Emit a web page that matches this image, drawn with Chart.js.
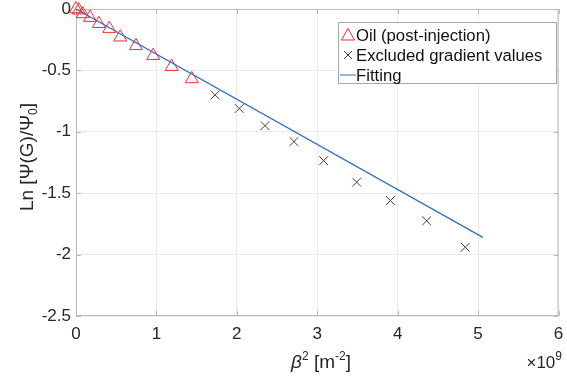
<!DOCTYPE html>
<html lang="en">
<head>
<meta charset="UTF-8">
<title>Ln attenuation vs beta squared</title>
<style>
  html, body { margin: 0; padding: 0; background: #fff; }
  #wrap { width: 567px; height: 376px; }
</style>
</head>
<body>
<div id="wrap"><canvas id="myChart" width="567" height="376"></canvas></div>
<script src="https://cdn.jsdelivr.net/npm/chart.js"></script>
<script>
// beta^2 values are in units of 1e9 m^-2
var oilX = [0, 0.035, 0.085, 0.175, 0.285, 0.415, 0.55, 0.745, 0.96, 1.19, 1.44];
var oilY = [0, -0.01, -0.04, -0.07, -0.12, -0.16, -0.23, -0.30, -0.38, -0.47, -0.57];
var exclX = [1.73, 2.03, 2.35, 2.71, 3.08, 3.49, 3.91, 4.36, 4.84];
var exclY = [-0.70, -0.81, -0.95, -1.08, -1.235, -1.41, -1.56, -1.725, -1.94];
var fitX = [0, 5.06];
var fitY = [0, -1.86];
var xTicks = [0, 1, 2, 3, 4, 5, 6];
var yTicks = [0, -0.5, -1, -1.5, -2, -2.5];
var seriesNames = ["Oil (post-injection)", "Excluded gradient values", "Fitting"];

function pts(xs, ys) {
    var out = [];
    for (var i = 0; i < xs.length; i++) out.push({x: xs[i], y: ys[i]});
    return out;
}

var FONT = "'Liberation Sans', Arial, Helvetica, sans-serif";
var axisGray = "#b8b8b8";
var txt = "#262626";

// draws a row of text pieces, some raised or lowered
function richText(ctx, parts, x, y, align) {
    var w = 0;
    parts.forEach(function(p) { ctx.font = p.f; w += ctx.measureText(p.t).width; });
    var cx = align === "center" ? x - w / 2 : (align === "right" ? x - w : x);
    parts.forEach(function(p) {
        ctx.font = p.f;
        ctx.fillText(p.t, cx, y + (p.dy || 0));
        cx += ctx.measureText(p.t).width;
    });
}

var extras = {
    id: "extras",
    beforeDatasetsDraw: function(chart) {
        var ctx = chart.ctx, a = chart.chartArea;
        var xs = chart.scales.x, ys = chart.scales.y;
        ctx.save();
        ctx.strokeStyle = axisGray;
        ctx.lineWidth = 1;
        ctx.strokeRect(a.left + 0.5, a.top + 0.5, a.right - a.left - 1, a.bottom - a.top - 1);
        // inward ticks
        ctx.beginPath();
        xTicks.forEach(function(v) {
            var px = Math.round(xs.getPixelForValue(v)) + 0.5;
            ctx.moveTo(px, a.bottom); ctx.lineTo(px, a.bottom - 5);
            ctx.moveTo(px, a.top); ctx.lineTo(px, a.top + 5);
        });
        yTicks.forEach(function(v) {
            var py = Math.round(ys.getPixelForValue(v)) + 0.5;
            ctx.moveTo(a.left, py); ctx.lineTo(a.left + 5, py);
            ctx.moveTo(a.right, py); ctx.lineTo(a.right - 5, py);
        });
        ctx.stroke();
        ctx.restore();
    },
    afterDraw: function(chart) {
        var ctx = chart.ctx;
        ctx.save();
        ctx.fillStyle = txt;
        ctx.textBaseline = "alphabetic";
        var big = "19px " + FONT, small = "12px " + FONT;
        // x title
        richText(ctx, [
            {t: "\u03b2", f: "italic 19px " + FONT},
            {t: "2", f: small, dy: -8},
            {t: " [m", f: big},
            {t: "-2", f: small, dy: -8},
            {t: "]", f: big}
        ], 321, 368, "center");
        // exponent
        richText(ctx, [
            {t: "\u00d710", f: "17px " + FONT},
            {t: "9", f: small, dy: -8}
        ], 562, 368, "right");
        // y title
        ctx.save();
        ctx.translate(33, 157);
        ctx.rotate(-Math.PI / 2);
        richText(ctx, [
            {t: "Ln [\u03a8(G)/\u03a8", f: big},
            {t: "0", f: small, dy: 4},
            {t: "]", f: big}
        ], 0, 0, "center");
        ctx.restore();

        // legend box
        var lx = 338, ly = 22, lw = 218, lh = 61;
        ctx.fillStyle = "#fff";
        ctx.fillRect(lx, ly, lw, lh);
        ctx.strokeStyle = "#a8a8a8";
        ctx.lineWidth = 1;
        ctx.strokeRect(lx + 0.5, ly + 0.5, lw, lh);
        ctx.font = "16.7px " + FONT;
        ctx.textBaseline = "middle";
        var rows = [35, 55, 75];
        var ds = chart.data.datasets;
        for (var i = 0; i < ds.length; i++) {
            var yy = rows[i], mx = 348;
            ctx.strokeStyle = ds[i].borderColor;
            ctx.lineWidth = 1;
            ctx.beginPath();
            if (i === 0) {
                ctx.moveTo(mx - 6.5, yy + 5); ctx.lineTo(mx + 6.5, yy + 5); ctx.lineTo(mx, yy - 6.5); ctx.closePath();
            } else if (i === 1) {
                ctx.moveTo(mx - 4, yy - 4); ctx.lineTo(mx + 4, yy + 4);
                ctx.moveTo(mx + 4, yy - 4); ctx.lineTo(mx - 4, yy + 4);
            } else {
                ctx.moveTo(mx - 8, yy); ctx.lineTo(mx + 8, yy);
            }
            ctx.stroke();
            ctx.fillStyle = "#111";
            ctx.fillText(ds[i].label, 356, yy + 1);
        }
        ctx.restore();
    }
};

new Chart(document.getElementById("myChart").getContext("2d"), {
    type: "scatter",
    data: {
        datasets: [
            {label: seriesNames[0], data: pts(oilX, oilY), pointStyle: "triangle", pointRadius: 7.5,
             borderColor: "#ff2a2a", backgroundColor: "rgba(0,0,0,0)", borderWidth: 1, order: 1},
            {label: seriesNames[1], data: pts(exclX, exclY), pointStyle: "crossRot", pointRadius: 6.2,
             borderColor: "#404040", backgroundColor: "#404040", borderWidth: 1, order: 2},
            {label: seriesNames[2], data: pts(fitX, fitY), type: "line", showLine: true, pointRadius: 0,
             borderColor: "#2f6fc4", borderWidth: 1.3, fill: false, order: 0}
        ]
    },
    options: {
        responsive: false,
        animation: false,
        clip: false,
        layout: {padding: {top: 9, right: 6, left: 0, bottom: 0}},
        plugins: {legend: {display: false}, tooltip: {enabled: false}},
        scales: {
            x: {
                type: "linear", min: 0, max: 6,
                afterBuildTicks: function(s) { s.ticks = xTicks.map(function(v) { return {value: v}; }); },
                afterFit: function(s) { s.height = 60; s.paddingLeft = 0; s.paddingRight = 0; },
                grid: {color: "#ebebeb", drawTicks: false},
                border: {display: false},
                ticks: {padding: 8, color: txt, font: {family: FONT, size: 17}, maxRotation: 0,
                        callback: function(v) { return String(v); }}
            },
            y: {
                type: "linear", min: -2.5, max: 0,
                afterBuildTicks: function(s) { s.ticks = yTicks.map(function(v) { return {value: v}; }); },
                afterFit: function(s) { s.width = 76; s.paddingTop = 0; s.paddingBottom = 0; },
                grid: {color: "#ebebeb", drawTicks: false},
                border: {display: false},
                ticks: {padding: 5, color: txt, font: {family: FONT, size: 17},
                        callback: function(v) { return String(v); }}
            }
        }
    },
    plugins: [extras]
});
</script>
</body>
</html>
